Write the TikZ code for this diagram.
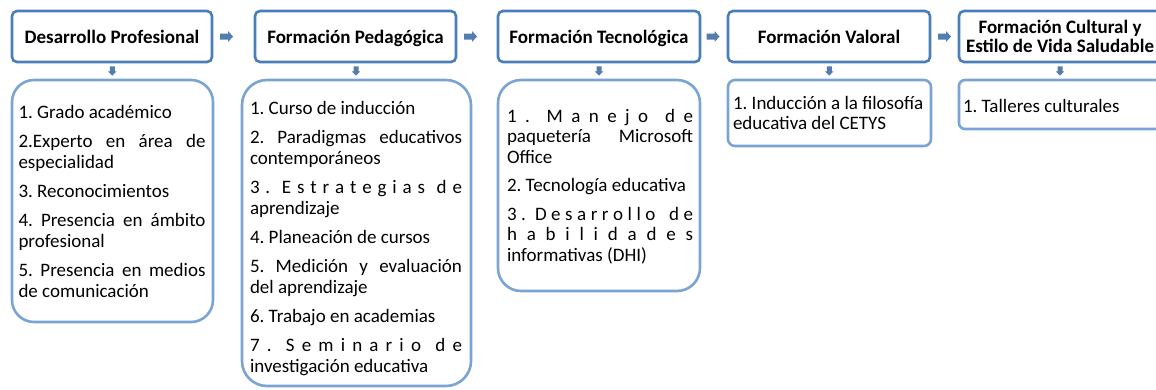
\documentclass[tikz,border=0pt]{standalone}
\usepackage{fontspec}
\setmainfont{Carlito}
\usetikzlibrary{calc}
\frenchspacing
\definecolor{hdrblue}{RGB}{74,126,187}
\definecolor{boxblue}{RGB}{122,164,212}
\definecolor{arrblue}{RGB}{84,125,175}
\newcommand{\jline}[1]{\makebox[\linewidth][s]{#1}}
\tikzset{
  hdr/.style={draw=hdrblue, line width=2.6pt, rounded corners=5pt, fill=white,
    inner sep=0pt, outer sep=0pt, minimum height=51pt,
    font=\fontsize{19}{19}\selectfont\bfseries, align=center},
  hdrone/.style={hdr, text height=13.5pt, text depth=0.5pt},
  txtbox/.style={draw=boxblue, line width=2.6pt, inner sep=0pt, outer sep=0pt, fill=white},
  items/.style={anchor=base west, inner sep=0pt, outer sep=0pt,
    font=\fontsize{19}{21}\selectfont\frenchspacing},
  rarr/.pic={\fill[arrblue] (-6.5,-3) -- (1.5,-3) -- (1.5,-5.5) -- (6.5,0) -- (1.5,5.5) -- (1.5,3) -- (-6.5,3) -- cycle;},
  darr/.pic={\fill[arrblue] (-2.5,-4.7) -- (2.5,-4.7) -- (2.5,0.3) -- (4.3,0.3) -- (0,4.5) -- (-4.3,0.3) -- (-2.5,0.3) -- cycle;}
}
\begin{document}
\begin{tikzpicture}[x=1pt,y=-1pt]
\useasboundingbox[fill=white] (0,0) rectangle (1156,389);
% headers
\node[hdrone, minimum width=200pt] (h1) at (112,36.5) {Desarrollo Profesional};
\node[hdrone, minimum width=201pt] (h2) at (355.5,36.5) {Formación Pedagógica};
\node[hdrone, minimum width=202pt] (h3) at (599,36.5) {Formación Tecnológica};
\node[hdrone, minimum width=202pt] (h4) at (829,36.5) {Formación Valoral};
\node[hdr, minimum width=202pt] (h5) at (1060,36.5) {Formación Cultural y\\Estilo de Vida Saludable};
% text boxes
\node[txtbox, rounded corners=22pt, minimum width=201pt, minimum height=242pt] (t1) at (112.5,201) {};
\node[txtbox, rounded corners=25pt, minimum width=229pt, minimum height=306pt] (t2) at (356.5,233) {};
\node[txtbox, rounded corners=23pt, minimum width=202pt, minimum height=211pt] (t3) at (599,185.5) {};
\node[txtbox, rounded corners=7pt, minimum width=203pt, minimum height=66pt] (t4) at (829.5,113) {};
\node[txtbox, rounded corners=6pt, minimum width=202pt, minimum height=49pt] (t5) at (1060,104.5) {};
% right arrows
\pic at ($(h1.east)!14.5pt!(h2.west)$) {rarr};
\pic at ($(h2.east)!14.5pt!(h3.west)$) {rarr};
\pic at ($(h3.east)!13pt!(h4.west)$) {rarr};
\pic at ($(h4.east)!14.5pt!(h5.west)$) {rarr};
% down arrows
\pic at ($(h1.south)!0.5!(t1.north)$) {darr};
\pic at ($(h2.south)!0.5!(t2.north)$) {darr};
\pic at ($(h3.south)!0.5!(t3.north)$) {darr};
\pic at ($(h4.south)!0.5!(t4.north)$) {darr};
\pic at ($(h5.south)!0.5!(t5.north)$) {darr};
% items
\node[items] (i1) at (18.5,118) {\parbox[t]{187pt}{%
1. Grado académico\\[8pt]
\jline{2.Experto en área de}\\
especialidad\\[8pt]
3. Reconocimientos\\[8pt]
\jline{4. Presencia en ámbito}\\
profesional\\[8pt]
\jline{5. Presencia en medios}\\
de comunicación}};
\node[items] (i2) at (250,114) {\parbox[t]{212pt}{%
1. Curso de inducción\\[8pt]
\jline{2. Paradigmas educativos}\\
contemporáneos\\[8pt]
\jline{3\hfill.\hfill\hfill E\hfill s\hfill t\hfill r\hfill a\hfill t\hfill e\hfill g\hfill i\hfill a\hfill s\hfill\hfill d\hfill e}\\
aprendizaje\\[8pt]
4. Planeación de cursos\\[8pt]
\jline{5. Medición y evaluación}\\
del aprendizaje\\[8pt]
6. Trabajo en academias\\[8pt]
\jline{7\hfill.\hfill\hfill S\hfill e\hfill m\hfill i\hfill n\hfill a\hfill r\hfill i\hfill o\hfill\hfill d\hfill e}\\
investigación educativa}};
\node[items, font=\fontsize{19}{20.5}\selectfont\frenchspacing] (i3) at (507,122) {\parbox[t]{186pt}{%
\jline{1\hfill.\hfill\hfill M\hfill a\hfill n\hfill e\hfill j\hfill o\hfill\hfill d\hfill e}\\
\jline{paquetería Microsoft}\\
Office\\[8pt]
2. Tecnología educativa\\[8pt]
\jline{3\hfill.\hfill\hfill D\hfill e\hfill s\hfill a\hfill r\hfill r\hfill o\hfill l\hfill l\hfill o\hfill\hfill\hfill d\hfill e}\\
\jline{h\hfill a\hfill b\hfill i\hfill l\hfill i\hfill d\hfill a\hfill d\hfill e\hfill s}\\
informativas (DHI)}};
\node[items, font=\fontsize{19}{20}\selectfont\frenchspacing] (i4) at (733,109) {\parbox[t]{196pt}{%
1. Inducción a la filosofía\\
educativa del CETYS}};
\node[items] (i5) at (963,112) {1. Talleres culturales};
\end{tikzpicture}
\end{document}
